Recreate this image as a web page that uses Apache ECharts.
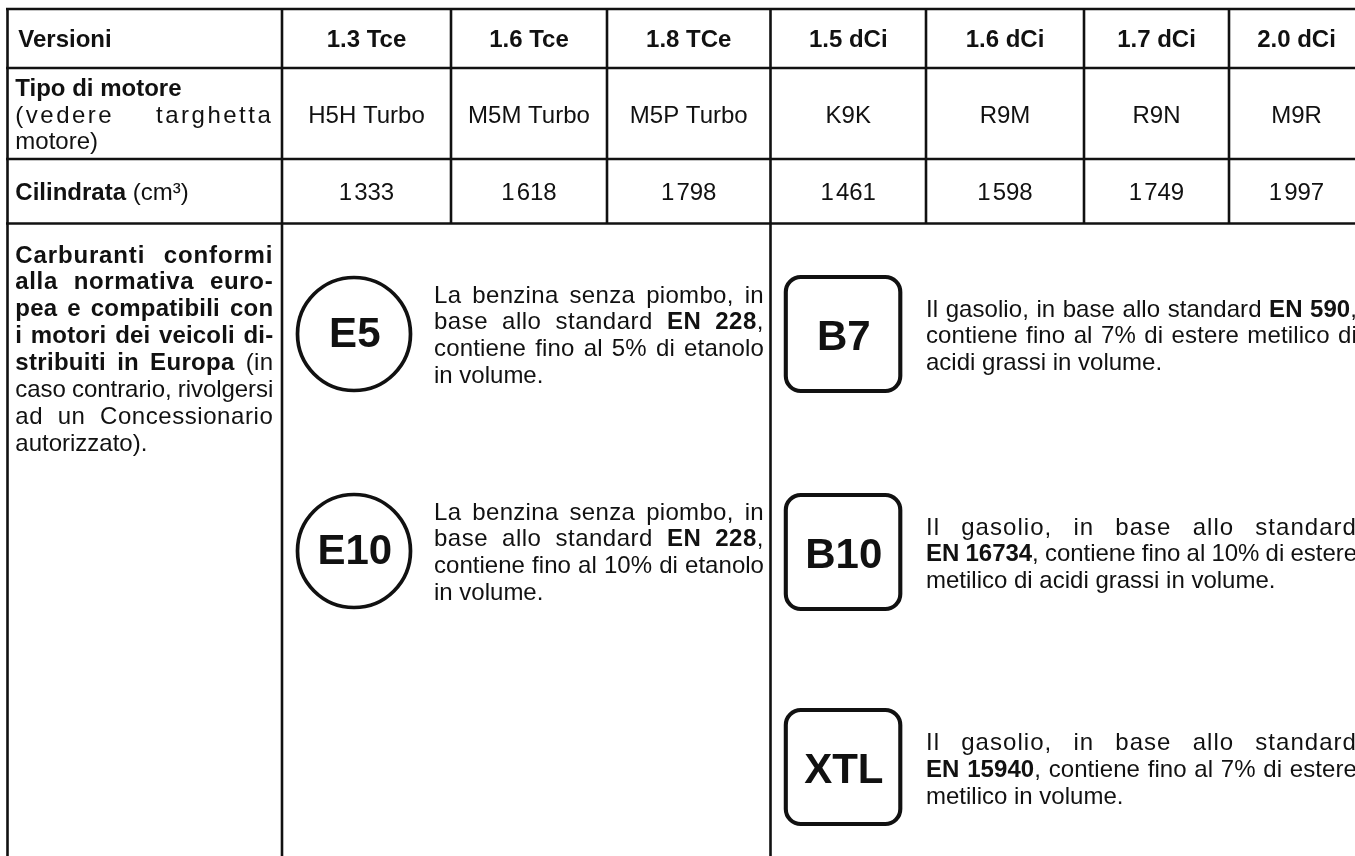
<!DOCTYPE html>
<html>
<head>
    <meta charset="utf-8" />
    <title>Carburanti</title>
    <script src="https://cdn.jsdelivr.net/npm/echarts@6/dist/echarts.min.js"></script>
    <style>html,body{margin:0;background:#fff;overflow:hidden}</style>
</head>
<body>
    <div id="main" style="width:1355px;height:856px;"></div>
    <script type="text/javascript">
        // table content
        var versions = ['1.3 Tce', '1.6 Tce', '1.8 TCe', '1.5 dCi', '1.6 dCi', '1.7 dCi', '2.0 dCi'];
        var engines = ['H5H Turbo', 'M5M Turbo', 'M5P Turbo', 'K9K', 'R9M', 'R9N', 'M9R'];
        var displacement = [1333, 1618, 1798, 1461, 1598, 1749, 1997];
        var fuelIntro = [
            '*Carburanti conformi*',
            '*alla normativa euro-*',
            '*pea e compatibili con*',
            '*i motori dei veicoli di-*',
            '*stribuiti in Europa* (in',
            'caso contrario, rivolgersi',
            'ad un Concessionario',
            'autorizzato).'
        ];
        var e5Note = ['La benzina senza piombo, in', 'base allo standard *EN 228*,', 'contiene fino al 5% di etanolo', 'in volume.'];
        var e10Note = ['La benzina senza piombo, in', 'base allo standard *EN 228*,', 'contiene fino al 10% di etanolo', 'in volume.'];
        var b7Note = ['Il gasolio, in base allo standard *EN 590*,', 'contiene fino al 7% di estere metilico di', 'acidi grassi in volume.'];
        var b10Note = ['Il gasolio, in base allo standard', '*EN 16734*, contiene fino al 10% di estere', 'metilico di acidi grassi in volume.'];
        var xtlNote = ['Il gasolio, in base allo standard', '*EN 15940*, contiene fino al 7% di estere', 'metilico in volume.'];

        // layout
        var colEdges = [282, 451, 607, 770.5, 926, 1084, 1229];
        var rowEdges = [9, 68, 159, 223.5];
        var FONT = 24, LEADING = 26.9, FAMILY = '"Liberation Sans", Arial, sans-serif';
        var INK = '#111', LINE = '#111';
        var GAP_WEIGHT = 13;  // a word gap takes this many times the stretch of a letter

        // zrender has no letter spacing, so set it on the context per string
        var spacing = {};
        var fillText = CanvasRenderingContext2D.prototype.fillText;
        CanvasRenderingContext2D.prototype.fillText = function (str, x, y, w) {
            var s = spacing[str] || [0, 0];
            this.letterSpacing = s[0] + 'px';
            this.wordSpacing = s[1] + 'px';
            return w === undefined ? fillText.call(this, str, x, y) : fillText.call(this, str, x, y, w);
        };

        var ruler = document.createElement('canvas').getContext('2d');
        function fontOf(bold, size) {
            return (bold ? 'bold ' : '') + size + 'px ' + FAMILY;
        }
        function textEl(str, x, baseline, bold, size, align) {
            size = size || FONT;
            return {
                type: 'text',
                x: x,
                y: baseline - 0.3465 * size + 2.2,
                style: {
                    text: str, fill: INK, font: fontOf(bold, size),
                    align: align || 'left', verticalAlign: 'middle'
                }
            };
        }
        // one line: *bold* parts, stretched (or tightened) to width when width is given
        function lineEls(line, x, baseline, width) {
            var segs = line.split('*').map(function (t, i) {
                ruler.font = fontOf(i % 2 === 1, FONT);
                return {text: t, bold: i % 2 === 1, w: ruler.measureText(t).width};
            }).filter(function (s) { return s.text !== ''; });
            var natural = 0, chars = 0, gaps = 0;
            segs.forEach(function (s) {
                natural += s.w;
                chars += s.text.length;
                gaps += s.text.split(' ').length - 1;
            });
            var slack = width ? width - natural : 0;
            var ls = slack / (chars + GAP_WEIGHT * gaps);
            var ws = ls * GAP_WEIGHT;
            var out = [], cx = x;
            segs.forEach(function (s) {
                // canvas ignores word spacing on a leading space, so step over it here
                var lead = s.text.charAt(0) === ' ';
                var str = lead ? s.text.slice(1) : s.text;
                spacing[str] = [ls, ws];
                out.push(textEl(str, cx + (lead ? 0.278 * FONT + ls + ws : 0), baseline, s.bold));
                cx += s.w + ls * s.text.length + ws * (s.text.split(' ').length - 1);
            });
            return out;
        }
        // paragraph: every line justified except the last
        function paraEls(lines, x, baseline, width) {
            var out = [];
            lines.forEach(function (line, i) {
                var w = i < lines.length - 1 ? width : 0;
                out = out.concat(lineEls(line, x, baseline + i * LEADING, w));
            });
            return out;
        }
        function hLine(y, x1, x2) {
            return {type: 'line', shape: {x1: x1, y1: y, x2: x2, y2: y}, style: {stroke: LINE, lineWidth: 2.6}};
        }
        function vLine(x, y1, y2) {
            return {type: 'line', shape: {x1: x, y1: y1, x2: x, y2: y2}, style: {stroke: LINE, lineWidth: 2.6}};
        }
        function badge(kind, label, cx, cy) {
            var round = kind === 'circle';
            var shape = round
                ? {type: 'circle', shape: {cx: cx, cy: cy, r: 56.5}}
                : {type: 'rect', shape: {x: cx - 57.2, y: cy - 57, width: 114.5, height: 114, r: 15}};
            shape.style = {fill: '#fff', stroke: LINE, lineWidth: round ? 3.7 : 4.1};
            return [shape, textEl(label, cx + 0.8, cy + (round ? 14 : 16.7), true, 42, 'center')];
        }

        var els = [];
        rowEdges.forEach(function (y) { els.push(hLine(y, 6, 1355)); });
        els.push(vLine(7.5, 8, 856));
        colEdges.forEach(function (x, i) {
            var bottom = (i === 0 || i === 3) ? 856 : rowEdges[3];
            els.push(vLine(x, rowEdges[0], bottom));
        });

        // header and spec rows
        els = els.concat(lineEls('*Versioni*', 18.3, 46));
        els = els.concat(lineEls('*Tipo di motore*', 15.3, 95));
        els = els.concat(paraEls(['(vedere targhetta', 'motore)'], 15.3, 122, 258));
        els = els.concat(lineEls('*Cilindrata* (cm³)', 15.3, 199));
        versions.forEach(function (v, i) {
            var right = colEdges[i + 1] || 1364;
            var cx = (colEdges[i] + right) / 2;
            els.push(textEl(v, cx, 46, true, FONT, 'center'));
            els.push(textEl(engines[i], cx, 122, false, FONT, 'center'));
            var digits = String(displacement[i]);
            els.push(textEl(digits.charAt(0) + '\u200A' + digits.slice(1), cx, 199, false, FONT, 'center'));
        });

        // fuel row
        els = els.concat(paraEls(fuelIntro, 15.3, 262, 258));
        els = els.concat(badge('circle', 'E5', 354, 334));
        els = els.concat(badge('circle', 'E10', 354, 551));
        els = els.concat(badge('rect', 'B7', 843, 334));
        els = els.concat(badge('rect', 'B10', 843, 552));
        els = els.concat(badge('rect', 'XTL', 843, 767));
        els = els.concat(paraEls(e5Note, 434, 302, 330));
        els = els.concat(paraEls(e10Note, 434, 519, 330));
        els = els.concat(paraEls(b7Note, 926, 316, 431));
        els = els.concat(paraEls(b10Note, 926, 534, 431));
        els = els.concat(paraEls(xtlNote, 926, 749.5, 431));

        var myChart = echarts.init(document.getElementById('main'));
        myChart.setOption({
            backgroundColor: '#fff',
            animation: false,
            graphic: {elements: els}
        });
    </script>
</body>
</html>
